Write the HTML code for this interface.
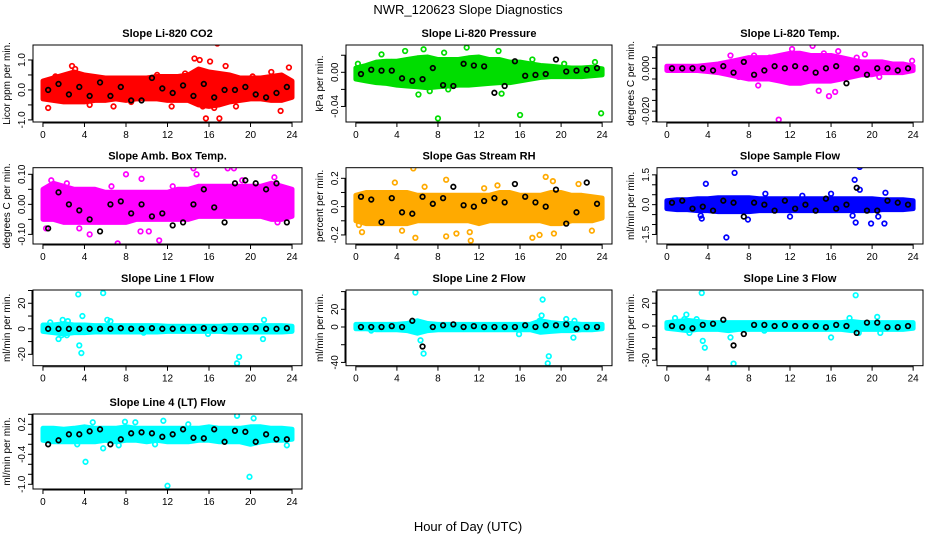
<!DOCTYPE html>
<html><head><meta charset="utf-8"><style>
body{margin:0;background:#fff}
svg{display:block;font-family:"Liberation Sans",sans-serif}
</style></head><body>
<svg id="chart" width="936" height="540" xmlns="http://www.w3.org/2000/svg">
<text x="468" y="14" text-anchor="middle" font-size="13">NWR_120623  Slope Diagnostics</text>
<text x="468" y="531" text-anchor="middle" font-size="13">Hour of Day (UTC)</text>
</svg>
<script>
const hours = [0,1,2,3,4,5,6,7,8,9,10,11,12,13,14,15,16,17,18,19,20,21,22,23,24];
const blackHours = [0.5,1.5,2.5,3.5,4.5,5.5,6.5,7.5,8.5,9.5,10.5,11.5,12.5,13.5,14.5,15.5,16.5,17.5,18.5,19.5,20.5,21.5,22.5,23.5];
const xTicks = [0,4,8,12,16,20,24];

const titles = ["Slope Li-820 CO2","Slope Li-820 Pressure","Slope Li-820 Temp.","Slope Amb. Box Temp.","Slope Gas Stream RH","Slope Sample Flow","Slope Line 1 Flow","Slope Line 2 Flow","Slope Line 3 Flow","Slope Line 4 (LT) Flow"];
const yLabels = ["Licor ppm per min.","kPa per min.","degrees C per min.","degrees C per min.","percent per min.","ml/min per min.","ml/min per min.","ml/min per min.","ml/min per min.","ml/min per min."];
const colors = ["#ff0000","#00dd00","#ff00ff","#ff00ff","#ffaa00","#0000ff","#00ffff","#00ffff","#00ffff","#00ffff"];
const yRanges = [[-1.07,1.5],[-0.0582,0.032],[-0.0251,0.0109],[-0.132,0.122],[-0.264,0.275],[-1.98,1.86],[-28.9,30.4],[-43.7,41.8],[-34.8,31.6],[-1.094,0.406]];
const yTicks = [[-1,-0.5,0,0.5,1],[-0.04,-0.02,0,0.02],[-0.025,-0.02,-0.015,-0.01,-0.005,0,0.005,0.01],[-0.1,-0.05,0,0.05,0.1],[-0.2,-0.1,0,0.1,0.2],[-1.5,-1,-0.5,0,0.5,1,1.5],[-20,-10,0,10,20,30],[-40,-20,0,20,40],[-30,-20,-10,0,10,20,30],[-1,-0.8,-0.6,-0.4,-0.2,0,0.2,0.4]];
const yTickLabels = [["-1.0","","0.0","","1.0"],["-0.04","","0.00",""],["","-0.020","","","","0.000","",""],["-0.10","","0.00","","0.10"],["-0.2","","0.0","","0.2"],["-1.5","","","0.0","","","1.5"],["-20","","0","","20",""],["-40","","0","20",""],["-30","","","0","","20",""],["-1.0","","","-0.4","","","0.2",""]];

const bandHi = [
[0.3,0.4,0.5,0.6,0.5,0.45,0.4,0.4,0.4,0.4,0.4,0.45,0.45,0.45,0.5,0.7,0.6,0.55,0.5,0.4,0.4,0.4,0.45,0.5,0.3],
[0.005,0.008,0.012,0.013,0.013,0.015,0.017,0.018,0.015,0.015,0.015,0.017,0.018,0.015,0.015,0.012,0.012,0.01,0.008,0.007,0.006,0.005,0.005,0.006,0.004],
[0.001,0.001,0.001,0.001,0.0015,0.002,0.003,0.004,0.005,0.005,0.005,0.006,0.007,0.007,0.006,0.006,0.006,0.005,0.004,0.003,0.003,0.003,0.002,0.002,0.001],
[0.05,0.07,0.06,0.05,0.05,0.05,0.04,0.04,0.04,0.04,0.04,0.04,0.04,0.05,0.05,0.06,0.06,0.06,0.06,0.06,0.06,0.06,0.07,0.06,0.05],
[0.08,0.1,0.1,0.1,0.1,0.1,0.08,0.08,0.08,0.08,0.08,0.08,0.08,0.08,0.1,0.1,0.08,0.08,0.08,0.1,0.1,0.08,0.08,0.07,0.06],
[0.2,0.25,0.25,0.3,0.3,0.35,0.35,0.35,0.35,0.3,0.3,0.3,0.3,0.3,0.3,0.3,0.3,0.3,0.3,0.3,0.3,0.25,0.25,0.25,0.2],
[3,3,4,3,3,2.5,2.5,2.5,2.5,2.5,2.5,2.5,2,2,2,2,2,2,2.5,2.5,2.5,2.5,2.5,2.5,2],
[3,3,3,3,3,4,7,4,3,3,3,3,3,3,3,3,3,3,7,5,4,4,3,3,3],
[3,4,5,4,3,3,3,3,3,3,3,3,3,3,3,3,3,3,4,3,3,3,3,3,3],
[0.12,0.12,0.1,0.12,0.15,0.12,0.12,0.12,0.15,0.12,0.12,0.12,0.12,0.12,0.12,0.12,0.15,0.12,0.12,0.12,0.15,0.15,0.12,0.12,0.1]];
const bandLo = [
[-0.3,-0.35,-0.4,-0.4,-0.4,-0.35,-0.35,-0.3,-0.35,-0.3,-0.3,-0.3,-0.35,-0.35,-0.35,-0.5,-0.55,-0.5,-0.4,-0.35,-0.3,-0.3,-0.35,-0.35,-0.25],
[-0.008,-0.01,-0.012,-0.013,-0.015,-0.016,-0.017,-0.018,-0.017,-0.016,-0.015,-0.015,-0.014,-0.013,-0.012,-0.012,-0.01,-0.008,-0.006,-0.005,-0.005,-0.005,-0.005,-0.004,-0.003],
[-0.001,-0.001,-0.001,-0.001,-0.0015,-0.002,-0.003,-0.004,-0.005,-0.005,-0.005,-0.006,-0.007,-0.007,-0.006,-0.006,-0.006,-0.005,-0.004,-0.003,-0.003,-0.002,-0.002,-0.002,-0.001],
[-0.05,-0.05,-0.06,-0.06,-0.06,-0.06,-0.06,-0.06,-0.06,-0.05,-0.05,-0.05,-0.05,-0.05,-0.05,-0.04,-0.04,-0.04,-0.04,-0.04,-0.04,-0.04,-0.05,-0.05,-0.04],
[-0.1,-0.12,-0.12,-0.12,-0.12,-0.12,-0.1,-0.1,-0.1,-0.1,-0.1,-0.1,-0.12,-0.1,-0.1,-0.1,-0.1,-0.1,-0.1,-0.12,-0.12,-0.1,-0.1,-0.1,-0.08],
[-0.2,-0.25,-0.25,-0.3,-0.3,-0.35,-0.35,-0.35,-0.35,-0.3,-0.3,-0.3,-0.3,-0.3,-0.3,-0.3,-0.3,-0.3,-0.3,-0.3,-0.3,-0.25,-0.25,-0.25,-0.2],
[-2,-3,-4,-3,-3,-2.5,-2.5,-2.5,-2.5,-2.5,-2.5,-2.5,-2,-2,-2,-2,-2,-2,-2.5,-2.5,-2.5,-2.5,-2.5,-2.5,-2],
[-2,-2,-3,-3,-3,-4,-7,-4,-3,-3,-3,-3,-3,-3,-3,-3,-3,-3,-6,-5,-4,-4,-3,-3,-2],
[-2,-3,-4,-3,-3,-3,-4,-3,-3,-3,-3,-3,-3,-3,-3,-3,-3,-3,-4,-3,-3,-3,-3,-3,-2],
[-0.12,-0.15,-0.15,-0.15,-0.15,-0.15,-0.12,-0.15,-0.12,-0.12,-0.15,-0.12,-0.15,-0.15,-0.15,-0.12,-0.12,-0.15,-0.15,-0.15,-0.2,-0.15,-0.12,-0.12,-0.1]];

const outlierX = [
[0.5,2.8,3.1,4.5,6.8,12.4,14.6,15.1,15.7,16.1,16.8,17,17.6,18.8,18.6,22.9,23.7,15.4,16.5,1.2,8.5,11,13.7,20.2,22],
[2.5,4.8,6.1,6.6,8.0,8.6,10.8,13.9,14.2,16,23.9,0.2,3.5,9,17.2,20.3,23.3,7.2],
[6.2,8.5,10.9,12.2,14.2,14.8,15.8,16.4,16.7,19.3,23.9,8.9,15.3,12,18.5,20.7,7,10],
[0.8,4.5,7.2,8,9.5,11.2,14.5,14.8,17.8,18.4,22.3,3.5,9.4,10.2,2.3,6.6,12.5,19.2,22.6,0.3],
[0.3,0.6,3.8,4.5,5.6,5.8,6.7,8.8,8.8,9.8,11.2,11.1,17.2,17.9,18.5,19.2,19.3,21.7,23,13.8,12.5],
[3.8,5.8,6.6,7.9,3.4,18.3,18.8,18.4,18.8,19.9,21.2,20.6,21.3,16,12,13.2,18.1,3.3,9.6],
[3.4,5.8,3.8,3.5,3.7,1.5,1.8,2.3,1.9,2.4,6.2,6.5,15.9,18.7,18.9,21.2,21.3,0.7,9.7],
[5.8,6.3,6.6,18.2,18.1,15.9,18.8,18.7,20.5,21.3,21.2,1.5,17.9],
[3.4,3.5,3.7,6.5,6.2,1.9,1.7,2.2,2.9,0.8,16,17.8,18.4,18.7,20.5,20.8,9.5],
[4.1,5.8,12,19.9,18.7,20.3,11.6,7.9,8.9,4.8,3.3,7.3,10.8,23.5,14]];
const outlierY = [
[-0.6,0.8,0.7,-0.5,-0.55,-0.55,1.05,1.0,-0.95,0.95,1.55,-0.95,0.8,1.6,-0.55,-0.7,0.75,-0.55,-0.6,0.45,-0.4,0.5,0.55,0.45,0.6],
[0.021,0.025,-0.026,0.027,-0.054,0.023,0.029,0.025,-0.025,-0.05,-0.048,0.01,0.012,-0.02,0.015,0.01,0.012,-0.022],
[0.006,0.006,-0.024,0.009,0.0105,-0.0105,-0.013,-0.011,0.008,0.0065,0.0035,-0.008,0.007,-0.005,0.005,-0.004,-0.004,0.005],
[0.08,-0.1,-0.13,0.1,0.085,-0.12,0.12,0.1,0.12,0.12,0.09,-0.08,-0.09,-0.09,0.07,0.06,0.06,0.08,-0.06,-0.08],
[-0.13,-0.18,0.17,-0.17,0.27,-0.22,0.14,0.19,-0.21,-0.19,-0.24,-0.18,-0.22,-0.2,0.21,0.18,-0.19,0.16,-0.17,0.15,0.13],
[1.05,-1.65,1.6,-0.75,-0.7,1.25,1.9,-0.9,0.75,-0.95,-0.95,-0.6,0.6,0.55,-0.6,0.45,-0.55,-0.55,0.55],
[27,28,10,-13,-19,-8,-5,-5,7,6,7,6,-4,-27,-22,-8,7,5,-3],
[39,-15,-30,31,13,-8,-33,-41,9,7,-12,-4,7],
[29,-13,-19,-33,-10,10,6,-6,6,7,-10,7,27,-6,8,-6,-4],
[-0.55,-0.28,-1.03,-0.85,0.37,0.32,0.27,0.25,0.24,0.24,-0.2,-0.22,-0.2,-0.22,0.2]];

const blackY = [
[0.0,0.2,-0.15,0.1,-0.2,0.25,-0.2,0.1,-0.35,-0.35,0.4,0.05,-0.1,0.15,-0.2,0.2,-0.25,0.0,0.0,0.1,-0.15,-0.25,-0.1,0.1],
[-0.002,0.003,0.002,0.002,-0.007,-0.01,-0.008,0.005,-0.015,-0.016,0.01,0.008,0.007,-0.024,-0.016,0.013,-0.004,-0.003,-0.002,0.015,0.001,0.002,0.003,0.005],
[0.0,0.0,0.0,0.0,-0.001,0.001,-0.002,0.003,-0.003,-0.001,0.001,0.0,0.001,0.0,-0.002,0.0,0.001,-0.007,0.0,-0.003,0.0,0.0,-0.001,0.0],
[-0.08,0.04,0.0,-0.02,-0.05,-0.09,0.0,0.01,-0.03,0.0,-0.04,-0.03,-0.07,-0.06,0.0,0.05,-0.01,-0.06,0.07,0.08,0.07,0.05,0.07,-0.06],
[0.07,0.05,-0.11,0.06,-0.04,-0.05,0.07,0.02,0.06,0.14,0.01,0.0,0.04,0.06,0.03,0.16,0.07,0.03,0.0,0.12,-0.12,-0.04,0.17,0.02],
[0.1,0.2,-0.2,-0.1,-0.3,0.2,0.1,-0.6,0.1,0.0,-0.3,0.2,-0.2,0.0,-0.3,0.3,-0.2,0.0,0.85,-0.3,-0.3,0.2,0.1,0.0],
[0,0,0,0,0,0,0,0.5,0,0,0.5,0,0,0,0,0.5,0,0,0,0,0.5,0,0,0.5],
[0,0,0,1,0,7,-22,0,2,3,0,1,0,0,0,0,2,0,2,2,3,-2,0,0],
[0,-1,-2,1,2,5.5,-17,-7,1,1,0,1,0,0,0,-1,1,0,-6,3,3,-1,-1,0],
[-0.2,-0.12,0.0,0.0,0.06,0.1,-0.2,-0.1,0.02,0.04,0.02,-0.05,0.0,0.1,-0.07,-0.08,0.1,-0.15,0.07,0.05,-0.15,0.0,-0.1,-0.1]];

const NS = "http://www.w3.org/2000/svg";
const svg = document.getElementById("chart");
const colX = [[33,302],[346,612],[657,923]];
const rowY = [[45,122],[167.7,244],[290,365.7],[414,489]];

function mk(tag, attrs, parent) {
  const e = document.createElementNS(NS, tag);
  for (const k in attrs) e.setAttribute(k, attrs[k]);
  (parent || svg).appendChild(e);
  return e;
}

for (let p = 0; p < 10; p++) {
  const [x0, x1] = colX[p % 3];
  const [y0, y1] = rowY[Math.floor(p / 3)];
  const [ymin, ymax] = yRanges[p];
  const xs = v => x0 + (x1 - x0) * (v + 0.96) / 25.92;
  const ys = v => y1 - (y1 - y0) * (v - ymin) / (ymax - ymin);
  const g = mk("g", {});
  
  
  const cp = mk("clipPath", {id: "cp" + p}, g);
  mk("rect", {x: x0, y: y0, width: x1 - x0, height: y1 - y0}, cp);
  const t = mk("text", {x: (x0 + x1) / 2, y: y0 - 8, "text-anchor": "middle", "font-size": "11", "font-weight": "bold"}, g);
  t.textContent = titles[p];
  
  
  const yl = mk("text", {transform: `translate(${x0 - 23},${(y0 + y1) / 2}) rotate(-90)`, "text-anchor": "middle", "font-size": "10"}, g);
  yl.textContent = yLabels[p];
  
  
  const dg = mk("g", {"clip-path": `url(#cp${p})`}, g);
  // band
  let d = "";
  hours.forEach((h, i) => { d += (i ? "L" : "M") + xs(h).toFixed(1) + "," + ys(bandHi[p][i]).toFixed(1); });
  for (let i = hours.length - 1; i >= 0; i--) d += "L" + xs(hours[i]).toFixed(1) + "," + ys(bandLo[p][i]).toFixed(1);
  const band = mk("path", {d: d + "Z", fill: colors[p], stroke: colors[p], "stroke-width": 5, "stroke-linejoin": "round"}, dg);
  
  
  outlierX[p].forEach((xv, i) => {
    const c = mk("circle", {cx: xs(xv), cy: ys(outlierY[p][i]), r: 2.3, fill: "none", stroke: colors[p], "stroke-width": 1.7}, dg);
    
    
  });
  blackHours.forEach((xv, i) => {
    const c = mk("circle", {cx: xs(xv), cy: ys(blackY[p][i]), r: 2.3, fill: "none", stroke: "#000", "stroke-width": 1.7}, dg);
    
    
  });
  const box = mk("rect", {x: x0, y: y0, width: x1 - x0, height: y1 - y0, fill: "none", stroke: "#000", "stroke-width": 1}, g);
  
  
  // x axis
  const xa = mk("g", {}, g);
  
  
  mk("line", {x1: xs(xTicks[0]), x2: xs(xTicks[xTicks.length - 1]), y1: y1 + 1, y2: y1 + 1, stroke: "#000"}, xa);
  xTicks.forEach(v => {
    mk("line", {x1: xs(v), x2: xs(v), y1: y1, y2: y1 + 5, stroke: "#000"}, xa);
    const tl = mk("text", {x: xs(v), y: y1 + 16, "text-anchor": "middle", "font-size": "10"}, xa);
    tl.textContent = v;
  });
  // y axis
  const ya = mk("g", {}, g);
  
  
  const tk = yTicks[p];
  mk("line", {x1: x0 - 1, x2: x0 - 1, y1: ys(tk[0]), y2: ys(tk[tk.length - 1]), stroke: "#000"}, ya);
  tk.forEach((v, i) => {
    mk("line", {x1: x0 - 5, x2: x0, y1: ys(v), y2: ys(v), stroke: "#000"}, ya);
    if (yTickLabels[p][i]) {
      const tl = mk("text", {transform: `translate(${x0 - 8},${ys(v)}) rotate(-90)`, "text-anchor": "middle", "font-size": "10"}, ya);
      tl.textContent = yTickLabels[p][i];
    }
  });
}
</script>
</body></html>
